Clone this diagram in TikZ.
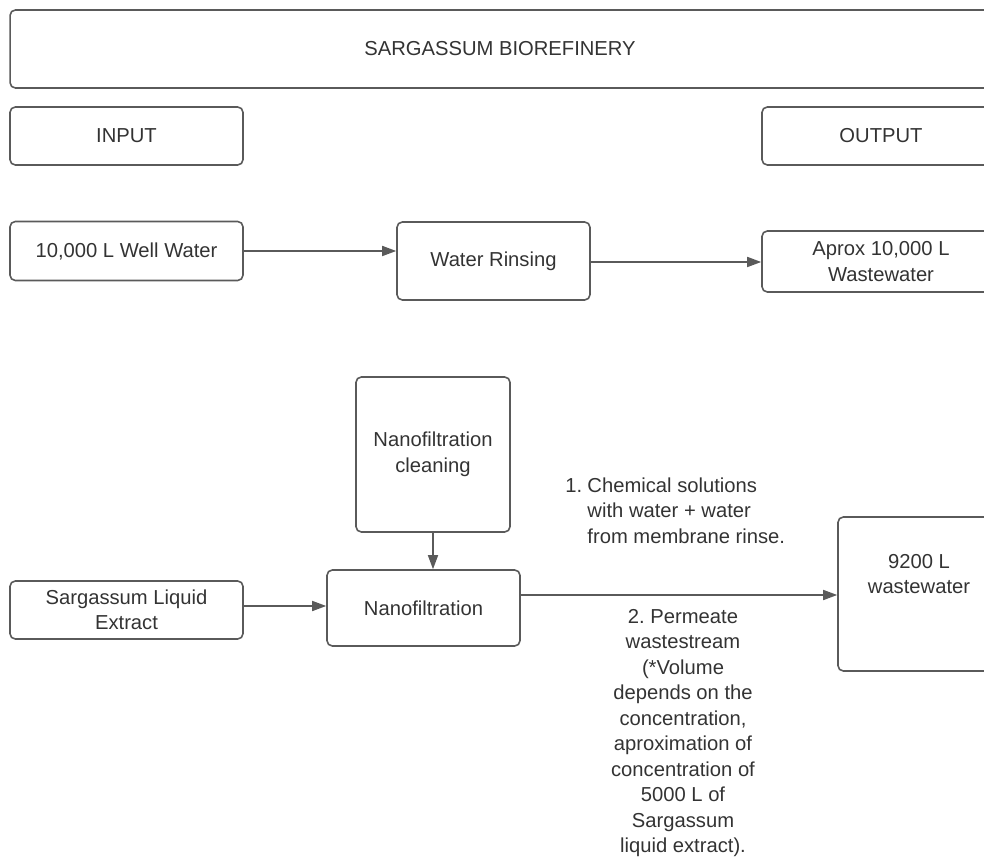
\documentclass[tikz,border=0pt]{standalone}
\usepackage{fontspec}
\setmainfont{Liberation Sans}
\usetikzlibrary{arrows.meta}
\definecolor{linegray}{HTML}{5A5A5A}
\definecolor{textgray}{HTML}{333333}
\frenchspacing
\tikzset{
  box/.style={draw=linegray, line width=0.9pt, rounded corners=3pt, align=center,
    text=textgray, inner sep=2pt, font=\fontsize{11.5}{14.5}\selectfont},
  flow/.style={draw=linegray, line width=0.9pt, -{Triangle[length=0.28cm, width=0.2cm]}},
  note/.style={text=textgray, inner sep=0pt, font=\fontsize{11.5}{14.5}\selectfont}
}
\begin{document}
\begin{tikzpicture}[x=0.02cm, y=-0.02cm]
    \useasboundingbox (0,0) rectangle (984,861);
    % Header boxes
    \node[box, minimum width=19.6cm, minimum height=1.56cm] (title) at (500,49) {SARGASSUM BIOREFINERY};
    \node[box, minimum width=4.66cm, minimum height=1.16cm] (input) at (126.5,136) {INPUT};
    \node[box, minimum width=4.76cm, minimum height=1.16cm] (output) at (881,136) {OUTPUT};
    % Water rinsing line
    \node[box, minimum width=4.66cm, minimum height=1.18cm] (well) at (126.5,251) {10,000 L Well Water};
    \node[box, minimum width=3.86cm, minimum height=1.56cm] (rinse) at (493.5,261) {Water Rinsing};
    \node[box, minimum width=4.76cm, minimum height=1.22cm] (waste1) at (881,261.5) {Aprox 10,000 L\\Wastewater};
    \draw[flow] (well.east) -- (well.east -| rinse.west);
    \draw[flow] ([yshift=-0.02cm]rinse.east) -- ([yshift=-0.02cm]rinse.east -| waste1.west);
    % Nanofiltration line
    \node[box, minimum width=3.08cm, minimum height=3.1cm] (nfclean) at (433,454.5) {Nanofiltration\\cleaning};
    \node[box, minimum width=3.86cm, minimum height=1.52cm] (nf) at (423.5,608) {Nanofiltration};
    \node[box, minimum width=4.66cm, minimum height=1.16cm] (extract) at (126.5,610) {Sargassum Liquid\\Extract};
    \node[box, minimum width=3.24cm, minimum height=3.08cm] (waste2) at (919,594) {9200 L\\wastewater\\[0.3cm]};
    \draw[flow] (nfclean.south) -- (nfclean.south |- nf.north);
    \draw[flow] ([yshift=0.08cm]extract.east) -- ([yshift=0.08cm]extract.east -| nf.west);
    \draw[flow] ([yshift=0.26cm]nf.east) -- ([yshift=0.26cm]nf.east -| waste2.west);
    % Stream notes
    \node[note, anchor=north west] (chem) at (565,474)
      {\begin{tabular}{@{}l@{\hspace{3pt}}l@{}}1. & Chemical solutions\\ & with water + water\\ & from membrane rinse.\end{tabular}};
    \node[note, anchor=north, align=center] (perm) at (683,609)
      {2. Permeate\\wastestream\\(*Volume\\depends on the\\concentration,\\aproximation of\\concentration of\\5000 L of\\Sargassum\\liquid extract).};
\end{tikzpicture}
\end{document}
